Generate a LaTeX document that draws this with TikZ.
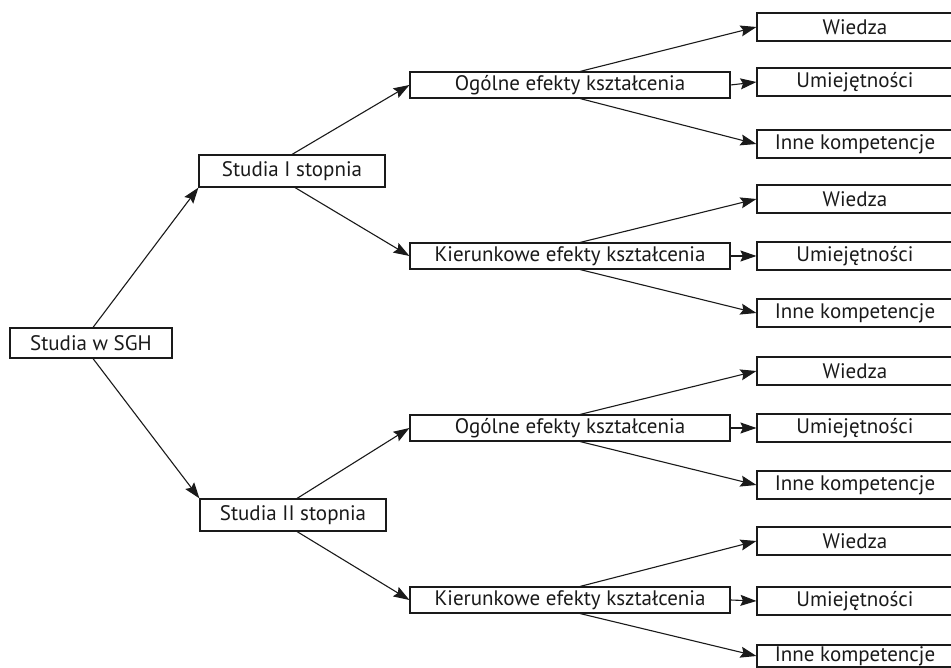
\documentclass[tikz,border=0pt]{standalone}
\usepackage{fontspec}
\setmainfont{PT Sans}
\usetikzlibrary{arrows.meta}
\definecolor{ink}{HTML}{1A1A1A}
\tikzset{
  box/.style={draw=ink, line width=1.1pt, inner sep=0pt, align=center, text=ink,
    font=\fontsize{21}{24}\selectfont},
  lbox/.style={box, minimum width=#1, minimum height=30pt},
  mbox/.style={box, minimum width=320pt, minimum height=26pt},
  rbox/.style={box, minimum width=196pt, minimum height=28pt},
  arr/.style={draw=ink, line width=1.1pt, -{Stealth[length=16pt,width=11pt,inset=2.5pt]}}
}
\begin{document}
\begin{tikzpicture}[x=1pt,y=-1pt]
\clip (0,0) rectangle (951,668);
\fill[white] (0,0) rectangle (951,668);
% level 0/1
\node[lbox=162pt] (sgh) at (91,343) {Studia w SGH};
\node[lbox=186pt, minimum height=32pt] (s1) at (292,171) {Studia I stopnia};
\node[lbox=186pt, minimum height=32pt] (s2) at (293,515) {Studia II stopnia};
% level 2
\node[mbox] (o1) at (570,85) {Ogólne efekty kształcenia};
\node[mbox] (k1) at (570,256) {Kierunkowe efekty kształcenia};
\node[mbox] (o2) at (570,428) {Ogólne efekty kształcenia};
\node[mbox] (k2) at (570,600) {Kierunkowe efekty kształcenia};
% level 3
\node[rbox] (w1) at (855,27) {Wiedza};
\node[rbox] (u1) at (855,82) {Umiejętności};
\node[rbox] (i1) at (855,144) {Inne kompetencje};
\node[rbox] (w2) at (855,199) {Wiedza};
\node[rbox] (u2) at (855,256) {Umiejętności};
\node[rbox] (i2) at (855,313) {Inne kompetencje};
\node[rbox] (w3) at (855,371) {Wiedza};
\node[rbox] (u3) at (855,428) {Umiejętności};
\node[rbox] (i3) at (855,485) {Inne kompetencje};
\node[rbox] (w4) at (855,541) {Wiedza};
\node[rbox] (u4) at (855,601) {Umiejętności};
\node[rbox, minimum height=22pt] (i4) at (855,656) {Inne kompetencje};
% connectors
\draw[arr] ([xshift=2pt]sgh.north) -- (s1.south west);
\draw[arr] ([xshift=2pt]sgh.south) -- (s2.north west);
\draw[arr] (s1.north) -- (o1.west);
\draw[arr] ([xshift=3pt]s1.south) -- (k1.west);
\draw[arr] ([xshift=4pt]s2.north) -- (o2.west);
\draw[arr] ([xshift=4pt]s2.south) -- (k2.west);
\foreach \m/\w/\u/\i in {o1/w1/u1/i1, k1/w2/u2/i2, o2/w3/u3/i3, k2/w4/u4/i4}{
  \draw[arr] ([xshift=10pt]\m.north) -- (\w.west);
  \draw[arr] (\m.east) -- (\u.west);
  \draw[arr] ([xshift=10pt]\m.south) -- (\i.west);
}
\end{tikzpicture}
\end{document}
